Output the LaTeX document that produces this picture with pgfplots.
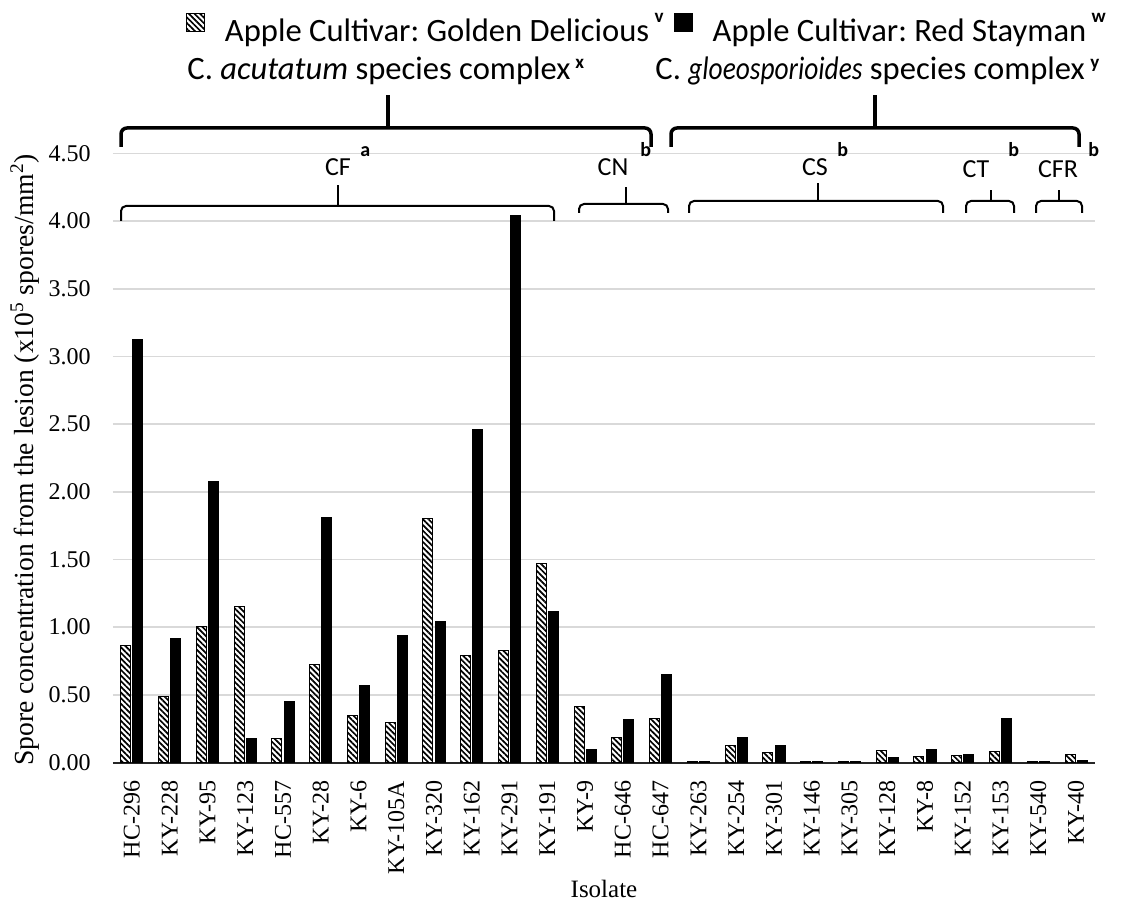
\documentclass[border=0pt]{standalone}
\usepackage{fontspec}
\setmainfont{Liberation Serif}
\newfontfamily\calib{Carlito}
\usepackage{pgfplots}
\usepackage{pgfplotstable}
\pgfplotsset{compat=1.18}
\usetikzlibrary{patterns.meta}
\frenchspacing

\pgfplotstableread{
idx GD RS
0 0.866 3.128
1 0.488 0.916
2 1.007 2.076
3 1.151 0.181
4 0.181 0.450
5 0.725 1.808
6 0.344 0.572
7 0.295 0.938
8 1.800 1.040
9 0.790 2.458
10 0.827 4.044
11 1.473 1.114
12 0.411 0.094
13 0.182 0.320
14 0.323 0.648
15 0.010 0.010
16 0.128 0.182
17 0.076 0.128
18 0.010 0.010
19 0.010 0.010
20 0.091 0.035
21 0.042 0.096
22 0.049 0.059
23 0.079 0.325
24 0.010 0.010
25 0.062 0.018
}\datatable

\begin{document}
\frenchspacing
\begin{tikzpicture}
\begin{scope}[x=0.5pt,y=-0.5pt,shift={(-56.5pt,381.25pt)}]
\path[use as bounding box] (0,0) rectangle (1123,911);
\end{scope}
\begin{axis}[
  at={(0pt,0pt)}, anchor=south west,
  width=491pt, height=304.5pt, scale only axis,
  xmin=-0.5, xmax=25.5, ymin=0, ymax=4.5,
  clip=false,
  axis lines*=left,
  axis line style={-},
  y axis line style={draw=none},
  x axis line style={black!85, line width=1pt},
  major tick length=0pt,
  xtick={0,...,25},
  xticklabels={HC-296,KY-228,KY-95,KY-123,HC-557,KY-28,KY-6,KY-105A,KY-320,KY-162,KY-291,KY-191,KY-9,HC-646,HC-647,KY-263,KY-254,KY-301,KY-146,KY-305,KY-128,KY-8,KY-152,KY-153,KY-540,KY-40},
  xticklabel style={font=\fontsize{12}{12}\selectfont, rotate=90, anchor=east, inner sep=0pt},
  xticklabel shift=9pt,
  ytick={0,0.5,1,1.5,2,2.5,3,3.5,4,4.5},
  yticklabel style={font=\fontsize{12}{12}\selectfont, inner sep=0pt, anchor=east, xshift=-11pt,
    /pgf/number format/.cd, fixed, fixed zerofill, precision=2, assume math mode=true},
  ymajorgrids,
  major grid style={gray!30, line width=0.75pt},
  ylabel={Spore concentration from the lesion (x10\textsuperscript{5} spores/mm\textsuperscript{2})},
  ylabel style={font=\fontsize{13.8}{14}\selectfont, at={(axis description cs:-0.0896,0.497)}, anchor=center},
  xlabel={Isolate},
  xlabel style={font=\fontsize{12.5}{13}\selectfont, at={(axis description cs:0.5,-0.2080)}, anchor=center},
  legend image code/.code={\draw[#1,bar shift=0pt] (0pt,0pt) rectangle (9pt,9pt);},
  legend style={draw=none, fill=none, at={(axis description cs:0.0743,1.2012)}, anchor=west,
    legend columns=2, inner sep=0pt, outer sep=0pt,
    font=\calib\fontsize{16.3}{17}\selectfont,
    /tikz/every odd column/.append style={column sep=8pt},
    /tikz/every even column/.append style={column sep=3pt}},
]
\addplot[ybar, bar width=5pt, bar shift=-3.05pt, draw=black, line width=0.5pt,
  pattern={Lines[angle=-45,distance=2pt,line width=0.85pt]}, pattern color=black]
  table[x=idx,y=GD]{\datatable};
\addlegendentry{Apple Cultivar: Golden Delicious\,\smash{\raisebox{9.5pt}{\bfseries\fontsize{9.5}{9.5}\selectfont v}}}
\addplot[ybar, bar width=5pt, bar shift=3.05pt, draw=black, fill=black, line width=0.5pt]
  table[x=idx,y=RS]{\datatable};
\addlegendentry{Apple Cultivar: Red Stayman\,\smash{\raisebox{9.5pt}{\bfseries\fontsize{9.5}{9.5}\selectfont w}}}
\end{axis}
\begin{scope}[x=0.5pt,y=-0.5pt,shift={(-56.5pt,381.25pt)}]
% big braces
\draw[line width=1.75pt, rounded corners=3pt] (121,147) -- (121,128) -- (651,128) -- (651,147);
\draw[line width=1.75pt] (388,128) -- (388,95);
\draw[line width=1.75pt, rounded corners=3pt] (671,147) -- (671,128) -- (1079,128) -- (1079,147);
\draw[line width=1.75pt] (875,128) -- (875,95);
% small braces
\draw[line width=1pt, rounded corners=2.5pt] (121,221) -- (121,206) -- (554,206) -- (554,221);
\draw[line width=1pt] (338,206) -- (338,185);
\draw[line width=1pt, rounded corners=2.5pt] (579,213) -- (579,204) -- (668,204) -- (668,213);
\draw[line width=1pt] (626,204) -- (626,187);
\draw[line width=1pt, rounded corners=2.5pt] (689,213) -- (689,201) -- (943,201) -- (943,213);
\draw[line width=1pt] (818,201) -- (818,183);
\draw[line width=1pt, rounded corners=2.5pt] (966,213) -- (966,201) -- (1014,201) -- (1014,213);
\draw[line width=1pt] (991,201) -- (991,190);
\draw[line width=1pt, rounded corners=2.5pt] (1036,213) -- (1036,201) -- (1082,201) -- (1082,213);
\draw[line width=1pt] (1059,201) -- (1059,190);
% group titles
\node[anchor=base west, inner sep=0pt, font=\calib\fontsize{16.3}{17}\selectfont] at (187,80) {C. \textit{acutatum} species complex};
\node[anchor=base west, inner sep=0pt, font=\calib\bfseries\fontsize{9.5}{9.5}\selectfont] at (575,69) {x};
\node[anchor=base west, inner sep=0pt, font=\calib\fontsize{16.3}{17}\selectfont] at (655,80) {C. \scalebox{0.84}[1]{\textit{gloeosporioides}} species complex};
\node[anchor=base west, inner sep=0pt, font=\calib\bfseries\fontsize{9.5}{9.5}\selectfont] at (1090,69) {y};
% sub-group labels
\begin{scope}[every node/.style={inner sep=0pt, font=\calib\fontsize{13}{13}\selectfont}]
\node[anchor=base] at (338,176) {CF};
\node[anchor=base] at (613,176) {CN};
\node[anchor=base] at (815,176) {CS};
\node[anchor=base] at (976,178) {CT};
\node[anchor=base] at (1058,178) {CFR};
\end{scope}
\begin{scope}[every node/.style={inner sep=0pt, anchor=base west, font=\calib\bfseries\fontsize{10}{10}\selectfont}]
\node at (360,157) {a};
\node at (640,157) {b};
\node at (837,157) {b};
\node at (1008,157) {b};
\node at (1088,157) {b};
\end{scope}
\end{scope}
\end{tikzpicture}
\end{document}
